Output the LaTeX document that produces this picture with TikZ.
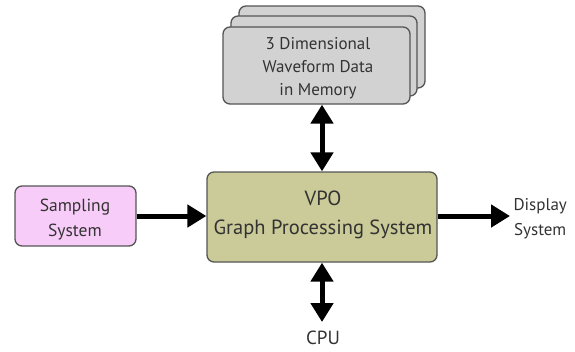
\documentclass[tikz,border=0pt]{standalone}
\usepackage{fontspec}
\setmainfont{PT Sans}
\usetikzlibrary{arrows.meta}
\definecolor{memfill}{HTML}{D2D2D2}
\definecolor{memline}{HTML}{555555}
\definecolor{sampfill}{HTML}{F8CCF8}
\definecolor{vpofill}{HTML}{CBCB99}
\tikzset{
  blk/.style={draw=memline, line width=1.3pt, rounded corners=7pt, align=center, inner sep=0pt, font=\fontsize{17}{23}\selectfont, text=black!80},
  bigarrow/.style={line width=5pt, -{Triangle[length=19pt,width=22pt]}},
  dblarrow/.style={line width=5pt, {Triangle[length=19pt,width=22pt]}-{Triangle[length=19pt,width=22pt]}},
  lbl/.style={align=center, font=\fontsize{17}{25}\selectfont, text=black!80}
}
\begin{document}
\begin{tikzpicture}[x=1pt,y=-1pt]
\useasboundingbox (0,0) rectangle (575,351);
% memory stack
\draw[blk, fill=memfill] (239,6) rectangle (425,88);
\draw[blk, fill=memfill] (231,16) rectangle (417,96);
\node[blk, fill=memfill, minimum width=187pt, minimum height=77pt] (mem) at (316.5,65.5) {};
\node[blk, draw=none, anchor=center] (memtxt) at (318,68) {3 Dimensional\\Waveform Data\\in Memory};
% VPO
\node[blk, fill=vpofill, minimum width=230pt, minimum height=90pt] (vpo) at (322,217) {};
\node[blk, draw=none, font=\fontsize{20.5}{29}\selectfont] (vpotxt) at (323,215) {VPO\\Graph Processing System};
% Sampling
\node[blk, fill=sampfill, minimum width=121pt, minimum height=60pt] (samp) at (75.5,216) {};
\node[blk, draw=none, font=\fontsize{17.5}{25}\selectfont] (samptxt) at (75,220) {Sampling\\System};
% labels
\node[lbl, anchor=west] (disp) at (510,219) {Display\\System};
\node[lbl, font=\fontsize{19}{25}\selectfont] (cpu) at (323,338) {CPU};
\coordinate (cpuend) at (322,322);
% arrows
\draw[bigarrow] (samp.east |- 0,216) -- (vpo.west |- 0,216);
\draw[bigarrow] (vpo.east |- 0,216) -- (disp.west |- 0,216);
\draw[dblarrow] (mem.south -| 322,0) -- (vpo.north);
\draw[dblarrow] (vpo.south) -- (cpuend);
\end{tikzpicture}
\end{document}
